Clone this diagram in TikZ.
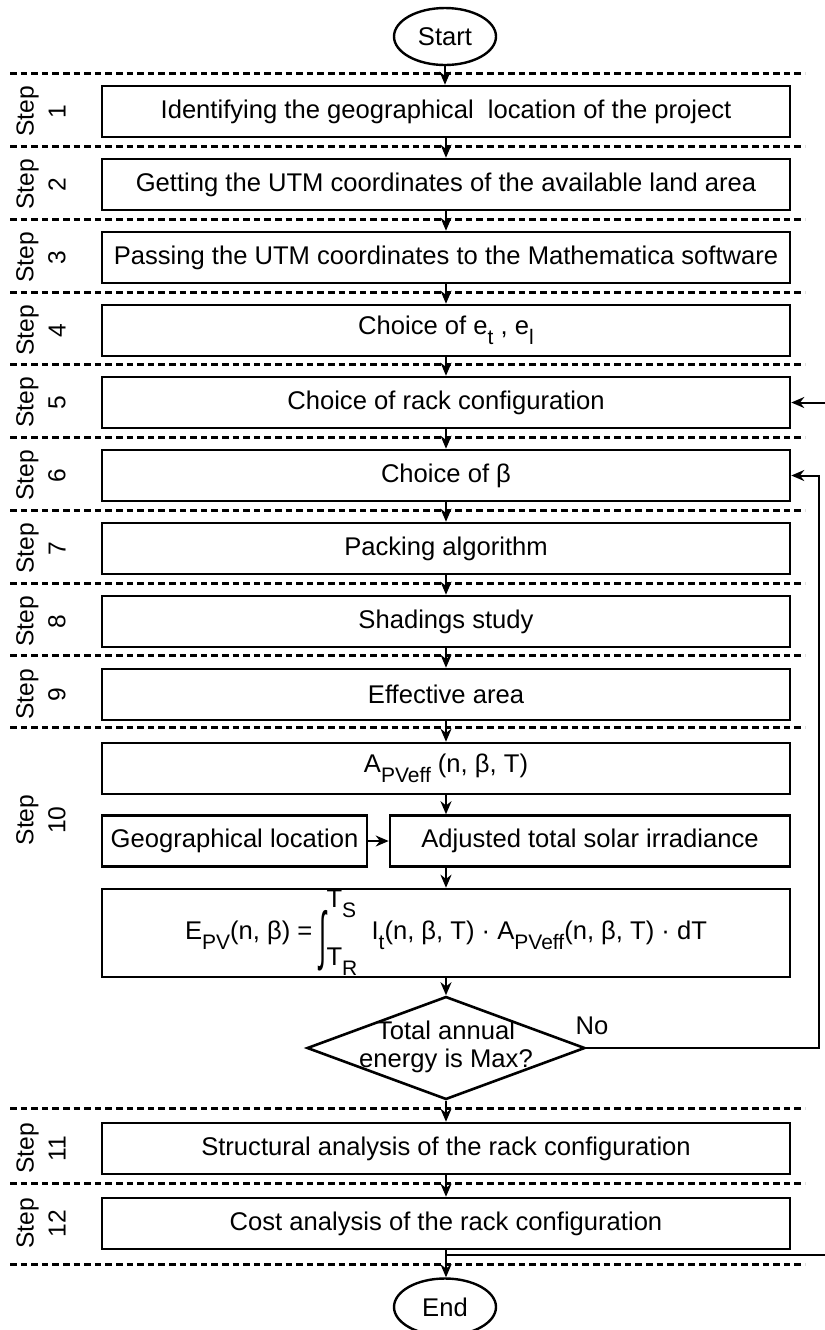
\documentclass[tikz,border=0pt]{standalone}
\usepackage{fontspec}
\usepackage{graphicx}
\setmainfont{Liberation Sans}
\usetikzlibrary{shapes.geometric,arrows.meta,positioning}

% lowered subscripts, tall integral sign with limits set to its right
\newcommand{\lowsub}[1]{\raisebox{-0.38em}{\fontsize{10.5}{12}\selectfont #1}}
\newcommand{\tallint}{\raisebox{-1.3ex}{\scalebox{1}[2.5]{∫}}}
\newcommand{\intlims}[2]{\rlap{\raisebox{16pt}{#1}}\raisebox{-13pt}{#2}}

\tikzset{
  box/.style={draw, line width=1.3pt, minimum width=344pt, minimum height=25.5pt, inner sep=0pt},
  term/.style={draw, ellipse, line width=1.2pt, minimum width=51pt, minimum height=28.5pt, inner sep=0pt},
  decide/.style={draw, diamond, aspect=1, line width=1.3pt, minimum width=139pt, minimum height=51.5pt, inner sep=0pt},
  steplabel/.style={rotate=90, align=center, font=\fontsize{12.3}{16}\selectfont},
  divider/.style={line width=1.5pt, dash pattern=on 3.3pt off 2pt},
  flow/.style={-{Stealth[length=6.5pt,width=5.5pt]}, line width=1pt}
}

\begin{document}
\begin{tikzpicture}[x=0.5pt, y=-0.5pt, font=\fontsize{12.8}{14}\selectfont]
\useasboundingbox (0,0) rectangle (825,1330);

% dashed lines between the steps
\foreach \y in {73,146,219,292,364,437,510,583,655,727,1108,1183,1264}
  \draw[divider] (10,\y) -- (805,\y);

% step numbers on the left
\foreach \n/\y in {1/111.5, 2/184.5, 3/257.5, 4/330.5, 5/402.5, 6/475.5, 7/548.5, 8/621.5, 9/694.5, 10/820, 11/1148.5, 12/1223.5}
  \node[steplabel] (lab\n) at (41,\y) {Step\\\n};

\node[term] (start) at (445,36.5) {Start};

\node[box] (s1) at (446,111.5) {Identifying the geographical~ location of the project};
\node[box] (s2) at (446,184.5) {Getting the UTM coordinates of the available land area};
\node[box] (s3) at (446,257.5) {Passing the UTM coordinates to the Mathematica software};
\node[box] (s4) at (446,330.5) {Choice of e\lowsub{t} , e\lowsub{l}};
\node[box] (s5) at (446,402.5) {Choice of rack configuration};
\node[box] (s6) at (446,475.5) {Choice of β};
\node[box] (s7) at (446,548.5) {Packing algorithm};
\node[box] (s8) at (446,621.5) {Shadings study};
\node[box] (s9) at (446,694.5) {Effective area};

% step 10
\node[box] (area) at (446,768.5) {A\lowsub{PVeff} (n, β, T)};
\node[box, minimum width=132.5pt] (geo) at (234.5,841) {Geographical location};
\node[box, minimum width=200pt] (irr) at (590,841) {Adjusted total solar irradiance};
\node[box, minimum height=44pt] (energy) at (446,933)
  {E\lowsub{PV}(n, β) = \tallint\intlims{T\lowsub{S}}{T\lowsub{R}}\ \ I\lowsub{t}(n, β, T) · A\lowsub{PVeff}(n, β, T) · dT};
\node[decide] (max) at (446,1048)
  {\makebox[0pt]{\begin{tabular}{@{}c@{}}Total annual\\energy is Max?\end{tabular}}};
\node (no) at (592,1026) {No};

\node[box] (s11) at (446,1148.5) {Structural analysis of the rack configuration};
\node[box] (s12) at (446,1223.5) {Cost analysis of the rack configuration};

\node[term] (end) at (445,1307) {End};

% main flow
\draw[flow] (start) -- (start |- s1.north);
\foreach \a/\b in {s1/s2, s2/s3, s3/s4, s4/s5, s5/s6, s6/s7, s7/s8, s8/s9, s9/area}
  \draw[flow] (\a) -- (\b);
\draw[flow] (area) -- (area |- irr.north);
\draw[flow] (geo) -- (irr);
\draw[flow] (area |- irr.south) -- (energy);
\draw[flow] (energy) -- (max);
\draw[flow] (max) -- (s11);
\draw[flow] (s11) -- (s12);
\draw[flow] (s12) -- (s12 |- end.north);

% back to the tilt angle
\coordinate (rail) at (819,1048);
\draw[flow] (max.east) -- (rail) |- (s6.east);

% outer loop, leaving the frame
\coordinate (in5) at (825,402.5);
\coordinate (out12) at (825,1255);
\draw[flow] (in5) -- (s5.east);
\draw[line width=1pt] (s12.south |- out12) -- (out12);
\end{tikzpicture}
\end{document}
